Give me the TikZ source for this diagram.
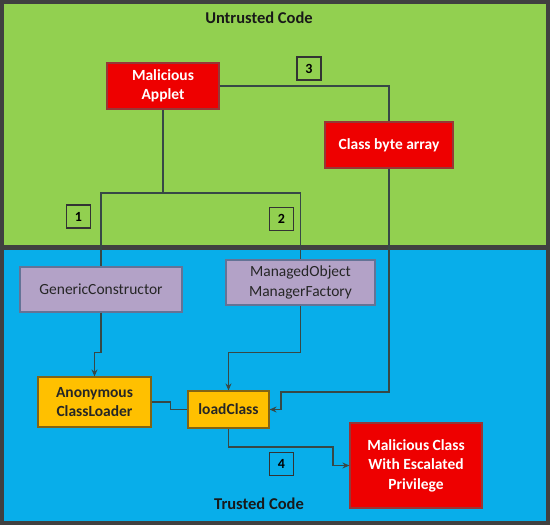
\documentclass[tikz,border=0pt]{standalone}
\usepackage{fontspec}
\setmainfont{Carlito}
\usetikzlibrary{positioning, arrows.meta, calc}
\definecolor{zoneGreen}{RGB}{146, 208, 80}
\definecolor{zoneBlue}{RGB}{8, 174, 234}
\definecolor{frameGray}{RGB}{64, 64, 64}
\definecolor{boxRed}{RGB}{238, 0, 0}
\definecolor{boxRedEdge}{RGB}{150, 55, 55}
\definecolor{boxLilac}{RGB}{179, 162, 199}
\definecolor{boxLilacEdge}{RGB}{100, 115, 150}
\definecolor{boxGold}{RGB}{255, 192, 0}
\definecolor{boxGoldEdge}{RGB}{130, 100, 20}
\definecolor{wireGray}{RGB}{55, 72, 70}

\begin{document}
\begin{tikzpicture}[
    x=1pt, y=-1pt,
    font=\fontsize{15.5}{19.5}\selectfont,
    >=Stealth,
    box/.style={
        rectangle,
        line width=1.2pt,
        align=center,
        inner sep=2pt
    },
    redbox/.style={
        box,
        draw=boxRedEdge,
        fill=boxRed,
        text=white,
        font=\fontsize{15.5}{19.5}\selectfont\bfseries
    },
    lilacbox/.style={
        box,
        draw=boxLilacEdge,
        fill=boxLilac,
        text=black!85
    },
    goldbox/.style={
        box,
        draw=boxGoldEdge,
        fill=boxGold,
        text=black!85,
        font=\fontsize{15.5}{19.5}\selectfont\bfseries
    },
    numbox/.style={
        draw=black!80,
        line width=1.2pt,
        minimum width=24pt,
        minimum height=23pt,
        inner sep=0pt,
        font=\fontsize{14}{16}\selectfont\bfseries
    },
    header/.style={
        font=\fontsize{16.5}{19}\selectfont\bfseries,
        text=black!90
    },
    wire/.style={
        draw=wireGray,
        line width=1.2pt
    },
    arrow/.style={
        wire,
        -{Stealth[length=7pt,width=6pt]}
    }
]
\useasboundingbox (0,0) rectangle (550,525);

% zones
\fill[frameGray] (0,0) rectangle (550,525);
\fill[zoneGreen] (4,4) rectangle (546,245);
\fill[zoneBlue] (4,250) rectangle (546,521);

\node[header] (untrusted) at (259,18) {Untrusted Code};
\node[header] (trusted) at (259,504) {Trusted Code};

% untrusted side
\node[redbox, minimum width=112pt, minimum height=46pt] (applet) at (163,86) {Malicious\\Applet};
\node[redbox, minimum width=128pt, minimum height=46pt] (bytes) at (389,145) {Class byte array};

% trusted side
\node[lilacbox, minimum width=162pt, minimum height=45pt] (generic) at (101,289.5) {GenericConstructor};
\node[lilacbox, minimum width=149pt, minimum height=45pt] (managed) at (300.5,282.5) {ManagedObject\\ManagerFactory};
\node[goldbox, minimum width=113pt, minimum height=50pt] (anon) at (94.5,402) {Anonymous\\ClassLoader};
\node[goldbox, minimum width=81pt, minimum height=37pt] (load) at (228.5,409.5) {loadClass};
\node[redbox, minimum width=132pt, minimum height=85pt] (evil) at (416,465.5) {Malicious Class\\With Escalated\\Privilege};

% step numbers
\node[numbox] (n1) at (78.5,216.5) {1};
\node[numbox] (n2) at (281.5,219) {2};
\node[numbox] (n3) at (309,68.5) {3};
\node[numbox] (n4) at (281.5,464) {4};

% connectors
\coordinate (fork) at (163,193);
\coordinate (bend3) at (281,392);
\coordinate (bend4) at (333,447);

\draw[wire] (applet.south) -- (fork);
\draw[wire] (fork) -| (generic.north);
\draw[wire] (fork) -| (managed.north);
\draw[wire] (applet.east) -| (bytes.north);

\draw[arrow] (generic.south) -- ++(0,40) -| (anon.north);
\draw[arrow] (managed.south) -- ++(0,47) -| (load.north);
\draw[arrow] (bytes.south) |- (bend3) |- (load.east);
\draw[wire] (anon.east) -- ++(19,0) |- (load.west);
\draw[arrow] (load.south) |- (bend4) |- (evil.west);

\end{tikzpicture}
\end{document}
